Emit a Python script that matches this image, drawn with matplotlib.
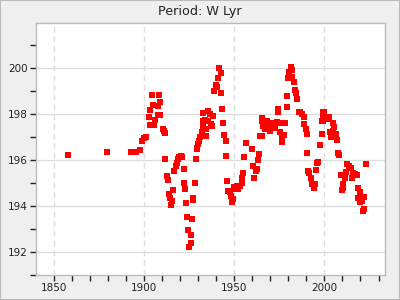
import matplotlib
matplotlib.use("Agg")
import matplotlib.pyplot as plt
from matplotlib.ticker import MultipleLocator
from matplotlib.patches import Rectangle

# observed times of maximum and the period estimate at each
years = [1858.2, 1879.8, 1893.0, 1895.8, 1898.0, 1898.9, 1900.2, 1901.3, 1903.0, 1903.5,
         1903.5, 1904.5, 1905.3, 1905.7, 1906.4, 1907.6, 1908.1, 1908.7, 1909.2, 1909.2,
         1910.5, 1911.1, 1911.6, 1912.0, 1912.8, 1913.6, 1914.2, 1914.6, 1915.3, 1915.9,
         1916.4, 1917.0, 1917.7, 1918.3, 1919.2, 1919.7, 1920.7, 1921.3, 1922.0, 1922.5,
         1923.1, 1923.6, 1924.2, 1924.7, 1925.3, 1925.9, 1926.4, 1926.9, 1927.1, 1927.5,
         1928.3, 1929.0, 1929.4, 1929.7, 1930.1, 1930.8, 1931.2, 1932.1, 1932.7, 1933.0,
         1933.0, 1934.0, 1934.4, 1934.5, 1935.8, 1935.8, 1936.7, 1937.1, 1937.8, 1938.5,
         1939.1, 1939.9, 1940.7, 1941.3, 1941.9, 1942.6, 1943.0, 1943.5, 1944.1, 1944.7,
         1945.3, 1945.6, 1946.3, 1946.8, 1947.6, 1948.2, 1948.7, 1949.2, 1950.2, 1950.8,
         1951.5, 1952.4, 1953.3, 1954.3, 1954.6, 1955.1, 1955.7, 1956.6, 1959.8, 1960.7,
         1961.2, 1962.0, 1962.6, 1963.4, 1963.8, 1964.3, 1965.3, 1965.3, 1965.5, 1966.3,
         1967.2, 1968.1, 1969.0, 1969.9, 1969.9, 1971.8, 1972.0, 1972.7, 1973.6, 1974.2,
         1974.5, 1975.4, 1975.4, 1976.3, 1976.3, 1977.8, 1978.2, 1979.2, 1979.5, 1980.1,
         1980.6, 1981.4, 1981.9, 1982.3, 1983.3, 1983.8, 1984.4, 1985.1, 1985.7, 1986.6,
         1987.6, 1988.5, 1989.0, 1989.8, 1990.3, 1990.6, 1991.1, 1991.7, 1992.4, 1993.3,
         1994.4, 1994.8, 1995.3, 1996.1, 1996.6, 1997.6, 1998.5, 1998.9, 1999.1, 1999.4,
         1999.4, 2000.0, 2001.3, 2002.6, 2003.1, 2003.6, 2004.9, 2004.9, 2005.5, 2006.2,
         2007.1, 2007.7, 2008.3, 2009.1, 2009.6, 2010.2, 2010.5, 2011.4, 2012.0, 2012.7,
         2013.6, 2014.6, 2015.2, 2016.1, 2017.1, 2018.0, 2018.4, 2018.9, 2019.5, 2020.0,
         2020.8, 2021.3, 2021.9, 2022.2, 2022.8]
periods = [196.21, 196.35, 196.36, 196.36, 196.43, 196.84, 196.97, 197.01, 197.90, 197.54,
           198.19, 198.83, 198.41, 197.54, 197.76, 197.96, 198.34, 198.86, 197.96, 198.52,
           197.38, 197.26, 197.17, 196.07, 195.31, 195.14, 194.54, 194.37, 194.07, 194.22,
           194.70, 195.52, 195.75, 195.90, 196.07, 196.16, 196.18, 196.12, 195.63, 195.02,
           194.73, 194.12, 193.54, 192.98, 192.23, 192.40, 192.76, 193.45, 194.37, 194.29,
           195.00, 196.07, 196.50, 196.55, 196.69, 196.84, 196.99, 197.25, 197.71, 197.49,
           198.05, 197.74, 197.35, 197.06, 198.15, 197.71, 198.03, 197.57, 197.49, 197.93,
           199.00, 199.27, 199.17, 199.58, 200.00, 199.80, 198.91, 198.25, 197.64, 197.09,
           196.84, 196.18, 195.09, 194.65, 194.60, 194.44, 194.19, 194.30, 194.85, 194.76,
           194.87, 194.73, 194.87, 195.02, 195.24, 195.46, 196.16, 196.77, 196.48, 195.75,
           195.24, 195.53, 195.63, 196.00, 196.26, 197.06, 197.06, 197.86, 197.70, 197.49,
           197.35, 197.71, 197.49, 197.64, 197.28, 197.64, 197.40, 197.49, 197.67, 198.10,
           198.25, 197.64, 197.25, 197.01, 196.81, 197.09, 197.61, 198.30, 198.78, 199.56,
           199.85, 200.04, 199.94, 199.61, 199.41, 199.07, 198.91, 198.66, 198.12, 198.10,
           198.00, 197.90, 197.57, 197.35, 197.13, 196.33, 195.53, 195.43, 195.24, 194.98,
           194.80, 194.98, 195.56, 195.90, 195.93, 196.65, 197.13, 197.69, 197.71, 197.86,
           198.08, 198.10, 197.79, 197.90, 197.25, 196.99, 197.60, 197.28, 197.45, 197.16,
           196.87, 196.33, 196.21, 195.37, 194.69, 194.80, 194.95, 195.24, 195.50, 195.82,
           195.75, 195.68, 195.24, 195.46, 195.38, 195.34, 194.80, 194.37, 194.17, 194.61,
           194.22, 193.81, 193.86, 194.41, 195.85]

title = "Period: W Lyr"

fig = plt.figure(figsize=(4, 3), dpi=100, facecolor="#efefef")
ax = fig.add_axes([0.09, 0.083, 0.8725, 0.84])
ax.set_facecolor("white")

ax.plot(years, periods, linestyle="none", marker="s", markersize=4.3,
        markerfacecolor="red", markeredgecolor="red", markeredgewidth=0, zorder=3)

ax.set_xlim(1840.3, 2033.6)
ax.set_ylim(191.0, 201.97)
ax.xaxis.set_major_locator(MultipleLocator(50))
ax.xaxis.set_minor_locator(MultipleLocator(10))
ax.yaxis.set_major_locator(MultipleLocator(2))
ax.yaxis.set_minor_locator(MultipleLocator(1))

# grid: solid horizontal, dashed vertical
ax.grid(axis="y", which="major", color="#dddddd", linewidth=1, linestyle="-")
ax.grid(axis="x", which="major", color="#dddddd", linewidth=1, linestyle=(0, (4, 3)))
ax.set_axisbelow(True)

for s in ax.spines.values():
    s.set_color("#bbbbbb")
    s.set_linewidth(1)

ax.tick_params(which="both", direction="out", length=4, width=1, color="#222222",
               labelsize=7.5, labelcolor="#222222")
ax.tick_params(which="major", pad=2)

fig.text(0.5, 0.962, title, ha="center", va="center", fontsize=9.2, color="#222222")

# thin border round the whole figure
fig.patches.append(Rectangle((0, 0), 1, 1, transform=fig.transFigure, fill=False,
                             edgecolor="#bbbbbb", linewidth=1.5))

fig.savefig("out.png", dpi=100, facecolor=fig.get_facecolor())
